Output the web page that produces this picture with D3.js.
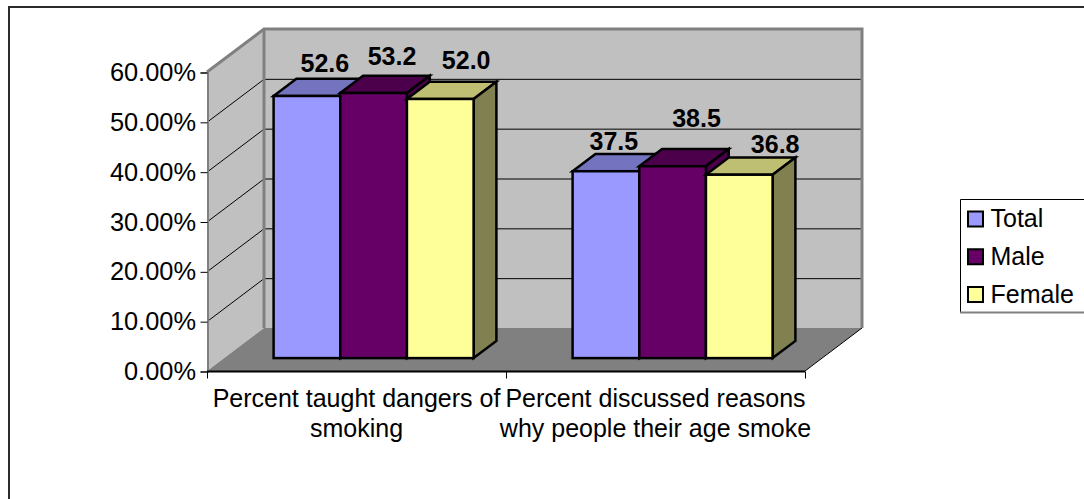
<!DOCTYPE html>
<html><head><meta charset="utf-8">
<script src="https://cdn.jsdelivr.net/npm/d3@7"></script>
<style>html,body{margin:0;padding:0;background:#fff;overflow:hidden}svg{display:block}text{font-family:"Liberation Sans",Arial,sans-serif;fill:#000}</style>
</head><body><svg id="c" width="1084" height="499"></svg>
<script>
const categories = [["Percent taught dangers of","smoking"],["Percent discussed reasons","why people their age smoke"]];
const seriesNames = ["Total","Male","Female"];
const total = [52.6,37.5];
const male = [53.2,38.5];
const female = [52.0,36.8];
const dataLabels = [["52.6","37.5"],["53.2","38.5"],["52.0","36.8"]];
const ticks = [0,10,20,30,40,50,60];
const front = ["#9999ff","#660066","#ffff99"];
const top_ = ["#7373bf","#4c004c","#bfbf73"];
const side = ["#7373bf","#4c004c","#808050"];
const labelDx = [[35,25],[35.5,41],[43,53]];
const labelDy = [[-24,-21],[-28,-39],[-30,-22]];

const svg = d3.select("#c");
const y = d3.scaleLinear().domain([0,60]).range([371,72]);
const x = d3.scaleBand().domain(d3.range(categories.length)).range([207,805]);
const depth = {dx:57,dy:-43};
const P = a=>a.map(p=>p.join(",")).join(" ");

// outer frame: top and left only, the rest runs off the picture
svg.append("polyline").attr("points",P([[9,499],[9,7],[1084,7]])).attr("fill","none").attr("stroke","#2b2b2b").attr("stroke-width",2);

// walls
const xL=x.range()[0], xR=x.range()[1], y0=y(0), yT=y(60);
svg.append("polygon").attr("points",P([[xL,y0],[xL+depth.dx,y0+depth.dy],[xL+depth.dx,yT+depth.dy],[xL,yT]])).attr("fill","#c0c0c0");
svg.append("polygon").attr("points",P([[xL+depth.dx,y0+depth.dy],[xR+depth.dx,y0+depth.dy],[xR+depth.dx,yT+depth.dy],[xL+depth.dx,yT+depth.dy]])).attr("fill","#c0c0c0");
svg.append("polygon").attr("points",P([[xL,y0],[xR,y0],[xR+depth.dx,y0+depth.dy],[xL+depth.dx,y0+depth.dy]])).attr("fill","#808080");
// gridlines
ticks.slice(1,-1).forEach(t=>{
  svg.append("polyline").attr("points",P([[xL,y(t)+.5],[xL+depth.dx,y(t)+depth.dy+.5],[xR+depth.dx,y(t)+depth.dy+.5]])).attr("fill","none").attr("stroke","#000");
});
// wall edges
svg.append("polyline").attr("points",P([[xL,yT],[xL+depth.dx,yT+depth.dy],[xR+depth.dx,yT+depth.dy],[xR+depth.dx,y0+depth.dy]])).attr("fill","none").attr("stroke","#808080").attr("stroke-width",3);
svg.append("line").attr("x1",xL+depth.dx).attr("x2",xL+depth.dx).attr("y1",yT+depth.dy).attr("y2",y0+depth.dy).attr("stroke","#808080").attr("stroke-width",3);
svg.append("line").attr("x1",xR).attr("x2",xR+depth.dx).attr("y1",y0).attr("y2",y0+depth.dy).attr("stroke","#000");

// axes
const yAxis = d3.axisLeft(y).tickValues(ticks).tickFormat(d=>d.toFixed(2)+"%").tickSize(7).tickPadding(4.5);
const gy = svg.append("g").attr("transform",`translate(${xL+.5},.5)`).call(yAxis);
gy.selectAll("text").style("font-size","25.4px");
gy.selectAll("path").attr("stroke","#808080").attr("stroke-width",2);
gy.selectAll("line").attr("stroke","#000");
const gx = svg.append("g").attr("transform",`translate(0,${y0+.5})`);
gx.append("line").attr("x1",xL).attr("x2",xR).attr("stroke","#000").attr("stroke-width",2);
[xL,xL+x.bandwidth(),xR].forEach(v=>gx.append("line").attr("x1",v+.5).attr("x2",v+.5).attr("y1",0).attr("y2",7).attr("stroke","#000"));
categories.forEach((c,i)=>{
  const t=svg.append("text").attr("text-anchor","middle").style("font-size","25px");
  c.forEach((s,j)=>t.append("tspan").attr("x",x(i)+x.bandwidth()/2).attr("y",407+j*30).text(s));
});

// bars
const series=[total,male,female];
const zFront=0.3, zDepth=0.4;
const inner=d3.scaleBand().domain(d3.range(3)).range([0,200]);
series.forEach((vals,s)=>{
  vals.forEach((v,i)=>{
    const xa=x(i)+x.bandwidth()/2-100+depth.dx*zFront+inner(s), w=inner.bandwidth();
    const xb=xa+w, sh=depth.dy*zFront, yb=y(0)+sh, yt=y(v)+sh;
    const dx=depth.dx*zDepth, dy=depth.dy*zDepth;
    const g=svg.append("g").attr("stroke","#000").attr("stroke-width",2.5).attr("stroke-linejoin","miter");
    g.append("polygon").attr("points",P([[xa,yt],[xb,yt],[xb+dx,yt+dy],[xa+dx,yt+dy]])).attr("fill",top_[s]);
    g.append("polygon").attr("points",P([[xb,yt],[xb+dx,yt+dy],[xb+dx,yb+dy],[xb,yb]])).attr("fill",side[s]);
    g.append("rect").attr("x",xa).attr("y",yt).attr("width",w).attr("height",yb-yt).attr("fill",front[s]);
  });
});
series.forEach((vals,s)=>vals.forEach((v,i)=>{
  const xa=x(i)+x.bandwidth()/2-100+inner(s);
  svg.append("text").attr("x",xa+inner.bandwidth()/2+labelDx[s][i]).attr("y",y(v)+depth.dy*0.3+labelDy[s][i]).attr("text-anchor","middle").style("font-size","25px").style("font-weight","bold").text(dataLabels[s][i]);
}));

// legend, open on the right where it leaves the picture
svg.append("polyline").attr("points",P([[1084,199.5],[960.5,199.5],[960.5,312]])).attr("fill","none").attr("stroke","#000");
svg.append("line").attr("x1",960).attr("x2",1084).attr("y1",312.5).attr("y2",312.5).attr("stroke","#808080").attr("stroke-width",2);
const ly=d3.scalePoint().domain(seriesNames).range([218.5,294]);
seriesNames.forEach((n,i)=>{
  svg.append("rect").attr("x",968).attr("y",ly(n)-7).attr("width",15).attr("height",15).attr("fill",front[i]).attr("stroke","#000").attr("stroke-width",2);
  svg.append("text").attr("x",990.5).attr("y",ly(n)+8.5).style("font-size","25px").text(n);
});
</script></body></html>
